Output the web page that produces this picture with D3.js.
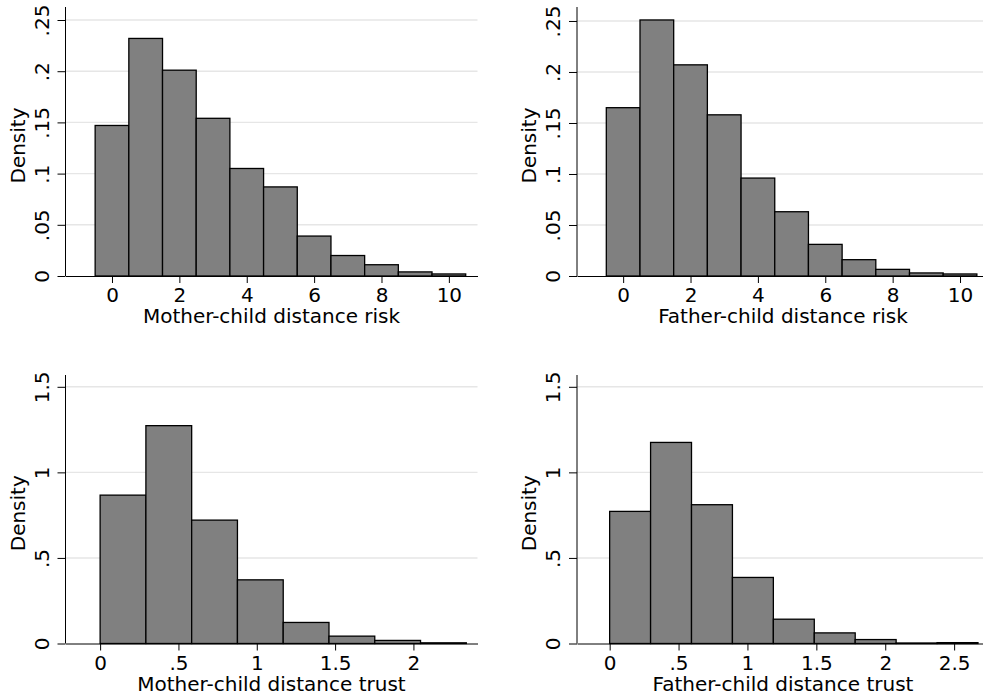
<!DOCTYPE html>
<html>
<head>
<meta charset="utf-8">
<script src="https://cdn.jsdelivr.net/npm/d3@7"></script>
<style>
  body { margin: 0; background: #fff; }
  svg { display: block; font-family: "DejaVu Sans", sans-serif; }
</style>
</head>
<body>
<svg id="chart" width="983" height="700"></svg>
<script>
// histogram densities
const riskBins = [0, 1, 2, 3, 4, 5, 6, 7, 8, 9, 10];
const motherRisk = [0.147, 0.232, 0.201, 0.154, 0.105, 0.087, 0.039, 0.020, 0.011, 0.004, 0.002];
const fatherRisk = [0.165, 0.251, 0.207, 0.158, 0.096, 0.063, 0.031, 0.016, 0.0065, 0.003, 0.002];
const motherTrust = [0.867, 1.273, 0.721, 0.372, 0.123, 0.043, 0.018, 0.004];
const fatherTrust = [0.772, 1.175, 0.811, 0.386, 0.142, 0.062, 0.023, 0.003, 0.005];
const motherTrustWidth = 0.2922;
const fatherTrustWidth = 0.297;

const riskYTicks = [0, 0.05, 0.1, 0.15, 0.2, 0.25];
const riskYLabels = ["0", ".05", ".1", ".15", ".2", ".25"];
const riskXTicks = [0, 2, 4, 6, 8, 10];
const trustYTicks = [0, 0.5, 1, 1.5];
const trustYLabels = ["0", ".5", "1", "1.5"];
const trustXTicks = [0, 0.5, 1, 1.5, 2, 2.5];
const trustXLabels = ["0", ".5", "1", "1.5", "2", "2.5"];

const svg = d3.select("#chart");
const plotW = 412;

function bins(values, width, start) {
    return values.map((v, i) => ({ x0: start + i * width, x1: start + (i + 1) * width, v: v }));
}

function panel(opt) {
    const g = svg.append("g");
    const x = d3.scaleLinear().domain(opt.xDomain).range([opt.left, opt.left + plotW]);
    const y = d3.scaleLinear().domain(opt.yDomain).range([opt.bottom, opt.top]);

    // grid lines
    g.append("g")
        .selectAll("line")
        .data(opt.yTicks.filter(d => d > 0))
        .join("line")
        .attr("x1", opt.left)
        .attr("x2", opt.left + plotW)
        .attr("y1", d => y(d))
        .attr("y2", d => y(d))
        .attr("stroke", "#e6e6e6")
        .attr("stroke-width", 1.4);

    // bars
    g.append("g")
        .selectAll("rect")
        .data(opt.bins)
        .join("rect")
        .attr("x", d => x(d.x0))
        .attr("width", d => x(d.x1) - x(d.x0))
        .attr("y", d => y(d.v))
        .attr("height", d => y(0) - y(d.v))
        .attr("fill", "#808080")
        .attr("stroke", "#000")
        .attr("stroke-width", 1.3);

    // y axis
    const yAxis = d3.axisLeft(y)
        .tickValues(opt.yTicks)
        .tickFormat((d, i) => opt.yLabels[i])
        .tickSize(8)
        .tickSizeOuter(0);
    const ya = g.append("g")
        .attr("transform", `translate(${opt.left},0)`)
        .call(yAxis);
    ya.select(".domain").attr("stroke", "#000").attr("d", `M0,${opt.bottom}V${opt.top}`);
    ya.selectAll(".tick line").attr("stroke", "#000");
    ya.selectAll(".tick text")
        .attr("x", null).attr("dy", null)
        .attr("transform", "translate(-17,0) rotate(-90)")
        .attr("text-anchor", "middle")
        .attr("font-size", 20)
        .attr("font-family", "DejaVu Sans")
        .attr("fill", "#000");

    // x axis
    const xAxis = d3.axisBottom(x)
        .tickValues(opt.xTicks)
        .tickFormat((d, i) => opt.xLabels ? opt.xLabels[i] : d)
        .tickSize(7)
        .tickSizeOuter(0);
    const xa = g.append("g")
        .attr("transform", `translate(0,${opt.bottom})`)
        .call(xAxis);
    xa.select(".domain").attr("stroke", "#000");
    xa.selectAll(".tick line").attr("stroke", "#000");
    xa.selectAll(".tick text")
        .attr("y", 26).attr("dy", null)
        .attr("font-size", 20)
        .attr("font-family", "DejaVu Sans")
        .attr("fill", "#000");

    g.append("text")
        .attr("transform", `translate(${opt.left - 41},${(opt.top + opt.bottom) / 2 + 4}) rotate(-90)`)
        .attr("text-anchor", "middle")
        .attr("font-size", 20)
        .text("Density");

    g.append("text")
        .attr("x", opt.left + plotW / 2)
        .attr("y", opt.bottom + 47)
        .attr("text-anchor", "middle")
        .attr("font-size", 20)
        .text(opt.title);
}

panel({
    left: 65.5, top: 7, bottom: 276,
    xDomain: [-1.38, 10.85], yDomain: [0, 0.2627],
    bins: bins(motherRisk, 1, riskBins[0] - 0.5),
    yTicks: riskYTicks, yLabels: riskYLabels, xTicks: riskXTicks,
    title: "Mother-child distance risk"
});
panel({
    left: 577, top: 7, bottom: 276,
    xDomain: [-1.37, 10.86], yDomain: [0, 0.2637],
    bins: bins(fatherRisk, 1, riskBins[0] - 0.5),
    yTicks: riskYTicks, yLabels: riskYLabels, xTicks: riskXTicks,
    title: "Father-child distance risk"
});
panel({
    left: 65.5, top: 375, bottom: 643.5,
    xDomain: [-0.221, 2.409], yDomain: [0, 1.569],
    bins: bins(motherTrust, motherTrustWidth, 0),
    yTicks: trustYTicks, yLabels: trustYLabels,
    xTicks: trustXTicks.slice(0, 5), xLabels: trustXLabels,
    title: "Mother-child distance trust"
});
panel({
    left: 577, top: 375, bottom: 643.5,
    xDomain: [-0.237, 2.753], yDomain: [0, 1.569],
    bins: bins(fatherTrust, fatherTrustWidth, 0),
    yTicks: trustYTicks, yLabels: trustYLabels,
    xTicks: trustXTicks, xLabels: trustXLabels,
    title: "Father-child distance trust"
});
</script>
</body>
</html>
